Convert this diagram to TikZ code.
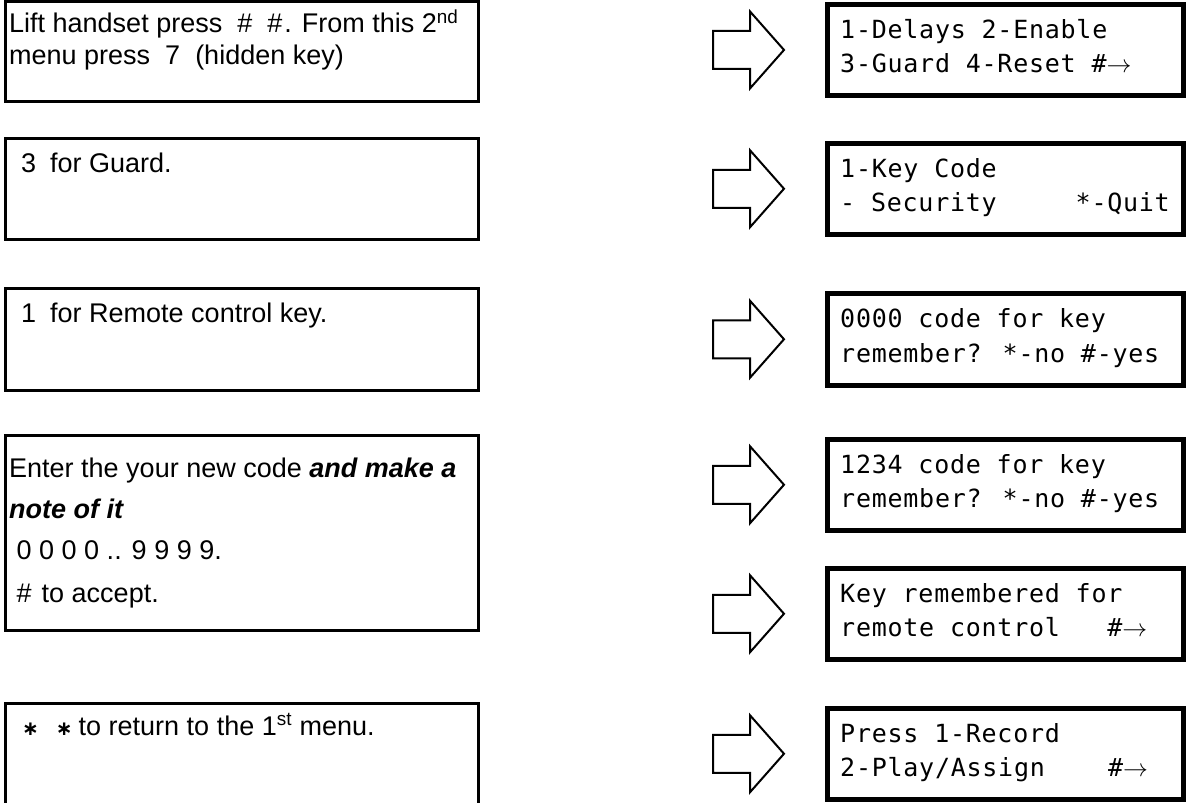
\documentclass[tikz,border=0pt]{standalone}
\usepackage{fontspec}
\setmainfont{Liberation Sans}
\newfontfamily\lcdfont[LetterSpace=3.0]{DejaVu Sans Mono}
\newfontfamily\starfont{DejaVu Sans}

\newcommand{\keystar}{{\starfont\bfseries\fontsize{20}{20}\selectfont ∗}}
\newcommand{\nextarrow}{$\rightarrow$}

\begin{document}
\begin{tikzpicture}[x=1pt,y=-1pt,
  stepbox/.style={draw, line width=3pt, minimum width=473pt, anchor=north west, inner sep=0pt, outer sep=0pt},
  lcdbox/.style={draw, line width=5pt, minimum width=356pt, minimum height=91.5pt, anchor=north west, inner sep=0pt, outer sep=0pt},
  steptext/.style={anchor=base west, inner sep=0pt, font=\fontsize{27}{32}\selectfont},
  lcdtext/.style={anchor=base west, inner sep=0pt, font=\lcdfont\fontsize{25}{30}\selectfont},
  pointer/.style={draw, line width=2pt, line join=miter}
]
\useasboundingbox (0,0) rectangle (1187,803);
\clip (0,0) rectangle (1187,803);

% instruction boxes on the left
\node[stepbox, minimum height=100pt]   (s1) at (5.5,1.5)   {};
\node[stepbox, minimum height=101pt]   (s2) at (5.5,138.5) {};
\node[stepbox, minimum height=101.5pt] (s3) at (5.5,288.5) {};
\node[stepbox, minimum height=195pt]   (s4) at (5.5,435)   {};
\node[stepbox, minimum height=200pt]   (s5) at (5.5,703.5) {};

\node[steptext] (t1a) at (9,32.3)  {Lift handset press \ \#\ \ \#\hspace{2pt}. From this 2\textsuperscript{nd}};
\node[steptext] (t1b) at (9,64.3)  {menu press \ 7 \ (hidden key)};
\node[steptext] (t2)  at (9,172)   {\hspace*{12pt}3\hspace{14pt}for Guard.};
\node[steptext] (t3)  at (9,322)   {\hspace*{12pt}1\hspace{14pt}for Remote control key.};
\node[steptext] (t4a) at (9,477)   {Enter the your new code \textbf{\textit{and make a}}};
\node[steptext] (t4b) at (9,518)   {\textbf{\textit{note of it}}};
\node[steptext] (t4c) at (9,559)   {\ 0 0 0 0 .. 9 9 9 9.};
\node[steptext] (t4d) at (9,602)   {\ \#\hspace{10pt}to accept.};
\node[steptext] (t5)  at (9,735)   {\hspace*{13pt}\keystar\hspace{17pt}\keystar\hspace{6pt}to return to the 1\textsuperscript{st} menu.};

% display boxes on the right
\node[lcdbox] (d1) at (827.5,4.2)   {};
\node[lcdbox] (d2) at (827.5,143)   {};
\node[lcdbox] (d3) at (827.5,293.5) {};
\node[lcdbox] (d4) at (827.5,439)   {};
\node[lcdbox] (d5) at (827.5,568)   {};
\node[lcdbox] (d6) at (827.5,708)   {};

\node[lcdtext] (d1a) at (840,38)    {1-Delays 2-Enable};
\node[lcdtext] (d1b) at (840,72.5)  {3-Guard 4-Reset \#\nextarrow};
\node[lcdtext] (d2a) at (840,177)   {1-Key Code};
\node[lcdtext] (d2b) at (840,211.5) {-~Security~~~~~*-Quit};
\node[lcdtext] (d3a) at (840,327.5) {0000 code for key};
\node[lcdtext] (d3b) at (840,362)   {remember? *-no \#-yes};
\node[lcdtext] (d4a) at (840,473)   {1234 code for key};
\node[lcdtext] (d4b) at (840,507.5) {remember? *-no \#-yes};
\node[lcdtext] (d5a) at (840,602)   {Key remembered for};
\node[lcdtext] (d5b) at (840,636.5) {remote control~~~\#\nextarrow};
\node[lcdtext] (d6a) at (840,742)   {Press 1-Record};
\node[lcdtext] (d6b) at (840,776.5) {2-Play/Assign~~~~\#\nextarrow};

% block arrows pointing at each display
\foreach \n in {d1,d2,d3,d4,d5,d6}{
  \coordinate (p\n) at ([xshift=-79pt]\n.west);
  \draw[pointer, shift={(p\n)}]
    (-35.5,-19) -- (1.5,-19) -- (1.5,-38.5) -- (35.5,0)
    -- (1.5,38.5) -- (1.5,19) -- (-35.5,19) -- cycle;
}
\end{tikzpicture}
\end{document}
